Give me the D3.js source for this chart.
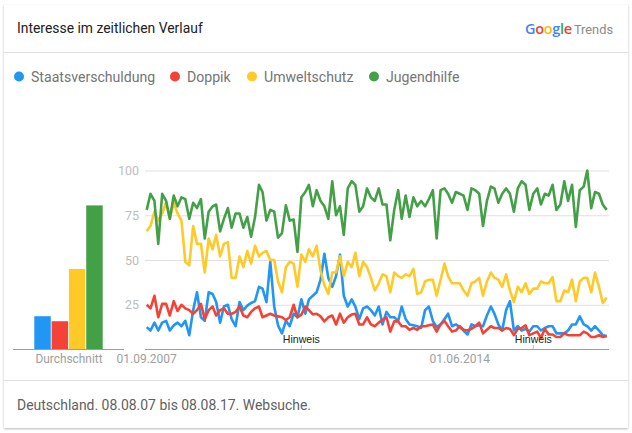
<!DOCTYPE html>
<html><head><meta charset="utf-8">
<script src="https://cdn.jsdelivr.net/npm/d3@7"></script>
<style>
html,body{margin:0;padding:0;background:#fff;overflow:hidden}
text{font-family:Roboto,sans-serif}
</style></head><body>
<svg id="c" width="632" height="433"></svg>
<script>
const seriesNames = ["Staatsverschuldung","Doppik","Umweltschutz","Jugendhilfe"];
const seriesColors = ["#2196f3","#f44336","#ffca28","#43a047"];
const averages = [18.6,15.8,45,80.5];
const yTicks = [25,50,75,100];
const xTickLabels = ["01.09.2007","01.06.2014"];
const noteLabel = "Hinweis";
const staatsverschuldung = [12.5,10.6,15,10.6,15,16,10.6,13.5,15,13,16,8,22,32,18,16,32,31,26.5,15,24,25,17,13,26.5,22,24.5,26,27,35,34,26.5,49,24,13.5,9,16,13,20,18,28,20,28,30,32,39,53.5,40,35,41,53,30,24,28,24,17,23,24,22,19,24,14,21,18,18,16,24,17,14,13.5,13,12,22,24,16,12.5,14,17,20,13,14,12.5,10.6,8.4,14,13,13.5,13,19,24,20,14,10.6,22,27,10.6,13,10.6,11.5,10,13,13,10.6,12,13,13,9,9,9,10.6,14,14,18.5,14,13,10.6,13,10.6,8,7.5];
const doppik = [25,23,30,18,25.5,25.5,19,27,21.5,25,23,22,20,22,25.5,17,22,24,19,22,23,20,20,21,24,19,18,21,23,24,18,19,20,19,18.5,18,16.5,18,25,18,19.5,24,22,19.6,20,18.5,15.7,18,19,14,20,15,18,19.5,20,14,14,18,14,13,15,16.6,18,10,15.7,15.7,13,13,11,12,11,13,13,13.5,14,10,14,16,13,10,10.6,13,11,10.6,11.5,13,15,9,11,13,12,12,10.6,12,11.5,8,11.5,12,13.5,8,9,10,6.5,11.5,8.4,8.4,7,7,9,8,8,8,8,10,9,7,7,8,7,7.5];
const umweltschutz = [66,69,77,72,76,82,73,82,76,72,49,47,69,59,59,43,62,56,64,52,59,60,40,40,52,46,55,48,58,52,54,55,50,50,38,32,46,49,48,35,53,49,56,52,58,44,36,31,43,43,52,41,49,46,54,41,49,46,40,33,37,42,41,32,43,41,40,42,41,45,31,32,38,39,39,30,39,48,41,37,37,37,33,30,37,38,40,30,38,43,40,39,35,42,33,26.5,35,32,37,31,34,34,38,37,37,40.5,27,27,33,32,39,27,38,40,40,32,43,35,26,29];
const jugendhilfe = [78,87,83,59,87,83,73,86,80,85,84,73,82,79,84,62,77,80,81,66,73,79,68,76,76,68,74,63,74,92,88,72,78,77,62.5,65,80.6,72,72.6,54.5,85,88,92,80,89,83,80,73,94,75,80,64,90,94,92,77,80,90,85,83,90,81,81,61,78,89,73,86,74,85,80,83,80,84,89,62,89,90,87,82,88,87,86,78,90,89,87,69,83,91,90,82,87,90,87,77,90,94,92,78,87,90,81,87,86,92,78,81,94,83,92,68.5,89,91,100,79,88,87,81,78];
const allSeries = [staatsverschuldung,doppik,umweltschutz,jugendhilfe];
const months = d3.timeMonth.range(new Date(2007,8,1), new Date(2017,8,1));
const xTickDates = [new Date(2007,8,1), new Date(2014,5,1)];
const noteDates = [new Date(2011,0,1), new Date(2016,0,1)];

const svg = d3.select("#c");
const defs = svg.append("defs");
const f = defs.append("filter").attr("id","sh").attr("x","-5%").attr("y","-5%").attr("width","110%").attr("height","110%");
f.append("feDropShadow").attr("dx",0).attr("dy",1).attr("stdDeviation",1.2).attr("flood-color","#000").attr("flood-opacity",0.28);
svg.append("rect").attr("x",4).attr("y",5).attr("width",624).attr("height",423).attr("fill","#fff").attr("filter","url(#sh)");
svg.append("line").attr("x1",4).attr("x2",628).attr("y1",52.5).attr("y2",52.5).attr("stroke","#e0e0e0");
svg.append("line").attr("x1",4).attr("x2",628).attr("y1",380.5).attr("y2",380.5).attr("stroke","#e0e0e0");

svg.append("text").attr("x",17).attr("y",33).attr("font-size",13.9).attr("fill","#212121").text("Interesse im zeitlichen Verlauf");
const logo = svg.append("text").attr("x",525).attr("y",34).attr("font-size",14.5).style("font-family","'Open Sans',sans-serif").attr("letter-spacing",-0.3);
[["G","#4285f4"],["o","#ea4335"],["o","#fbbc05"],["g","#4285f4"],["l","#34a853"],["e","#ea4335"]].forEach(d=>logo.append("tspan").attr("fill",d[1]).attr("font-weight",600).text(d[0]));
logo.append("tspan").attr("fill","#8a8a8a").attr("dx",2).attr("font-size",12.8).style("font-family","Roboto,sans-serif").attr("letter-spacing",0).text("Trends");

// legend
const legendX = [19,175,252,374];
const lg = svg.selectAll("g.lg").data(seriesNames).enter().append("g").attr("class","lg").attr("transform",(d,i)=>`translate(${legendX[i]},76.5)`);
lg.append("circle").attr("r",5).attr("fill",(d,i)=>seriesColors[i]);
lg.append("text").attr("x",12).attr("y",5.5).attr("font-size",14.1).attr("fill","#757575").text(d=>d);

// line chart
const x = d3.scaleTime().domain([months[0],months[months.length-1]]).range([146.7,606.7]);
const y = d3.scaleLinear().domain([0,100]).range([349.5,170.5]);
const yAxis = d3.axisLeft(y).tickValues(yTicks).tickSize(-464).tickPadding(6);
const gy = svg.append("g").attr("transform","translate(145,0)").call(yAxis);
gy.select(".domain").remove();
gy.selectAll(".tick line").attr("stroke","#e0e0e0");
gy.selectAll(".tick text").attr("fill","#bdbdbd").attr("font-size",12.5).style("font-family","Roboto,sans-serif");
const line = d3.line().x((d,i)=>x(months[i])).y(d=>y(d));
svg.selectAll("path.s").data(allSeries).enter().append("path").attr("class","s")
  .attr("d",line).attr("fill","none").attr("stroke",(d,i)=>seriesColors[i]).attr("stroke-width",2.6).attr("stroke-linejoin","round");
svg.append("line").attr("x1",145).attr("x2",609).attr("y1",349.5).attr("y2",349.5).attr("stroke","#9e9e9e");
svg.selectAll("text.xt").data(xTickDates).enter().append("text").attr("class","xt")
  .attr("x",d=>x(d)).attr("y",363).attr("text-anchor","middle").attr("font-size",12).attr("fill","#9e9e9e").text((d,i)=>xTickLabels[i]);
svg.selectAll("line.nt").data(noteDates).enter().append("line").attr("class","nt")
  .attr("x1",d=>x(d)).attr("x2",d=>x(d)).attr("y1",345).attr("y2",349).attr("stroke","#bdbdbd");
svg.selectAll("text.nl").data(noteDates).enter().append("text").attr("class","nl")
  .attr("x",d=>x(d)).attr("y",343).attr("text-anchor","middle").attr("font-size",10.6).style("font-family","Arial,'Liberation Sans',sans-serif").attr("fill","#222").text(noteLabel);

// average bars
const bx = d3.scaleBand().domain(seriesNames).range([34.3,102.7]).paddingInner(0.05);
svg.selectAll("rect.b").data(averages).enter().append("rect").attr("class","b")
  .attr("x",(d,i)=>bx(seriesNames[i])).attr("width",bx.bandwidth()).attr("y",d=>y(d)).attr("height",d=>y(0)-y(d)).attr("fill",(d,i)=>seriesColors[i]);
svg.append("line").attr("x1",13).attr("x2",124).attr("y1",349.5).attr("y2",349.5).attr("stroke","#9e9e9e");
svg.append("text").attr("x",69).attr("y",363).attr("text-anchor","middle").attr("font-size",11.9).attr("fill","#9e9e9e").text("Durchschnitt");

svg.append("text").attr("x",17).attr("y",410).attr("font-size",13.95).attr("fill","#616161").text("Deutschland. 08.08.07 bis 08.08.17. Websuche.");
</script></body></html>
